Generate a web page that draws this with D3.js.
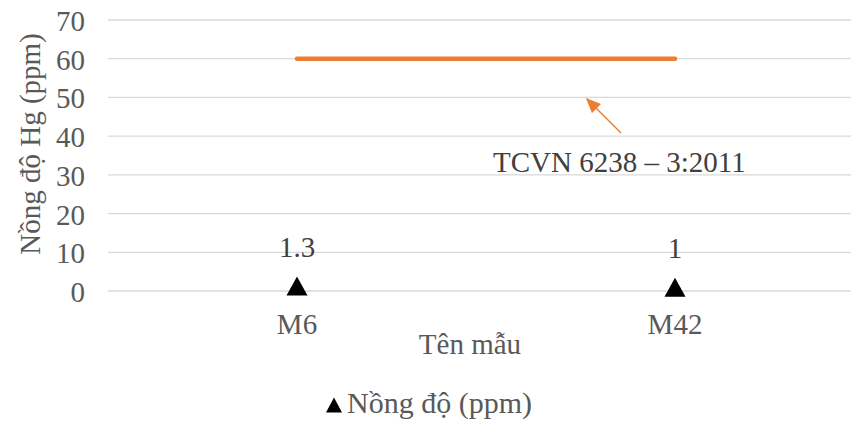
<!DOCTYPE html>
<html><head><meta charset="utf-8">
<script src="https://cdn.jsdelivr.net/npm/d3@7"></script>
<style>body{margin:0;background:#fff}svg{display:block}svg text{font-family:"Liberation Serif","DejaVu Serif",serif !important}</style>
</head><body><svg id="c" width="851" height="423"></svg>
<script>
const categories = ["M6", "M42"];
const values = [1.3, 1];
const limitValue = [60, 60];
const yTicks = [0, 10, 20, 30, 40, 50, 60, 70];
const seriesName = "Nồng độ (ppm)";
const limitLabel = "TCVN 6238 – 3:2011";

const svg = d3.select("#c");
const L = 108, R = 864, T = 20, B = 291;
const x = d3.scaleBand().domain(categories).range([L, R]);
const y = d3.scaleLinear().domain([0, 70]).range([B, T]);
const fs = 29;

const g = svg.append("g");
g.selectAll(".grid").data(yTicks).join("line")
  .attr("x1", L).attr("x2", R).attr("y1", d => y(d)).attr("y2", d => y(d))
  .attr("stroke", "#d9d9d9").attr("stroke-width", 1.3);

const yAxis = d3.axisLeft(y).tickValues(yTicks).tickSize(0).tickPadding(23);
const ya = svg.append("g").attr("transform", `translate(${L},0)`).call(yAxis);
ya.attr("font-family", null).attr("font-size", null);
ya.select(".domain").remove();
ya.selectAll("text").attr("font-size", fs).attr("fill", "#595959").attr("dy", "0.36em");

const xAxis = d3.axisBottom(x).tickSize(0).tickPadding(43);
const xa = svg.append("g").attr("transform", `translate(0,${B})`).call(xAxis);
xa.attr("font-family", null).attr("font-size", null);
xa.select(".domain").remove();
xa.selectAll("text").attr("font-size", fs).attr("fill", "#595959").attr("dy", "0");

// limit line
const cx = d => x(d) + x.bandwidth() / 2;
svg.append("line")
  .attr("x1", cx(categories[0])).attr("x2", cx(categories[1]))
  .attr("y1", y(limitValue[0])).attr("y2", y(limitValue[1]))
  .attr("stroke", "#ED7D31").attr("stroke-width", 4.5).attr("stroke-linecap", "round");

// arrow
svg.append("defs").append("marker").attr("id", "ah").attr("viewBox", "0 0 10 10")
  .attr("refX", 9).attr("refY", 5).attr("markerWidth", 15).attr("markerHeight", 13)
  .attr("markerUnits", "userSpaceOnUse").attr("orient", "auto").attr("preserveAspectRatio", "none")
  .append("path").attr("d", "M0,0 L10,5 L0,10 z").attr("fill", "#ED7D31");
svg.append("line").attr("x1", 621).attr("y1", 133).attr("x2", 587).attr("y2", 99)
  .attr("stroke", "#ED7D31").attr("stroke-width", 1.5).attr("marker-end", "url(#ah)");
svg.append("text").attr("x", 493).attr("y", 172).attr("font-size", fs).attr("fill", "#404040").text(limitLabel);

// markers
const triPath = (w, h) => `M0,${-h / 2}L${w / 2},${h / 2}L${-w / 2},${h / 2}Z`;
svg.selectAll(".pt").data(categories).join("path")
  .attr("d", triPath(21, 19)).attr("transform", (d, i) => `translate(${cx(d)},${y(values[i])})`).attr("fill", "#000");
svg.selectAll(".lbl").data(categories).join("text")
  .attr("x", d => cx(d)).attr("y", (d, i) => y(values[i]) - 29)
  .attr("text-anchor", "middle").attr("font-size", fs).attr("fill", "#404040")
  .text((d, i) => values[i]);

// axis titles
svg.append("text").attr("x", 470).attr("y", 354).attr("text-anchor", "middle").attr("font-size", fs).attr("fill", "#595959").text("Tên mẫu");
svg.append("text").attr("transform", "translate(40,144) rotate(-90)").attr("text-anchor", "middle").attr("font-size", fs).attr("fill", "#595959").text("Nồng độ Hg (ppm)");

// legend
svg.append("path").attr("d", triPath(16, 15)).attr("transform", "translate(334,405)").attr("fill", "#000");
svg.append("text").attr("x", 347).attr("y", 413).attr("font-size", 30).attr("fill", "#595959").text(seriesName);
</script></body></html>
